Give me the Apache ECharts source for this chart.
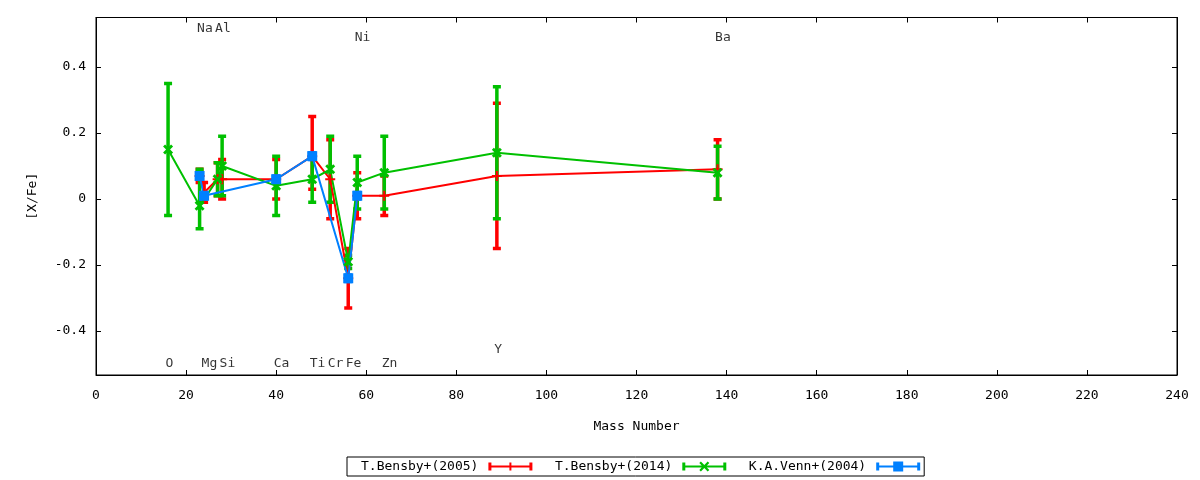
<!DOCTYPE html>
<html>
<head>
<meta charset="utf-8">
<script src="https://cdn.jsdelivr.net/npm/echarts@6/dist/echarts.min.js"></script>
<style>html,body{margin:0;padding:0;background:#fff}#c{width:1200px;height:480px}</style>
</head>
<body>
<div id="c"></div>
<script>
// ---- data ----
var redName = 'T.Bensby+(2005)';
var greenName = 'T.Bensby+(2014)';
var blueName = 'K.A.Venn+(2004)';

var redX    = [23,   24,    27,   28,   40,   48,   52,    56,    58,    64,    89,    138];
var redVal  = [0.07, 0.02,  0.06, 0.06, 0.06, 0.13, 0.06,  -0.24, 0.01,  0.01,  0.07,  0.09];
var redLow  = [0.05, -0.01, 0.01, 0.00, 0.00, 0.03, -0.06, -0.33, -0.06, -0.05, -0.15, 0.00];
var redHigh = [0.09, 0.05,  0.11, 0.12, 0.12, 0.25, 0.18,  -0.15, 0.08,  0.07,  0.29,  0.18];

var greenX    = [16,    23,    27,   28,   40,    48,    52,    56,    58,    64,    89,    138];
var greenVal  = [0.15,  -0.02, 0.06, 0.10, 0.04,  0.06,  0.09,  -0.19, 0.05,  0.08,  0.14,  0.08];
var greenLow  = [-0.05, -0.09, 0.01, 0.01, -0.05, -0.01, -0.01, -0.21, -0.03, -0.03, -0.06, 0.00];
var greenHigh = [0.35,  0.09,  0.11, 0.19, 0.13,  0.13,  0.19,  -0.17, 0.13,  0.19,  0.34,  0.16];

var blueX    = [23,   24,    40,   48,   56,    58];
var blueVal  = [0.07, 0.01,  0.06, 0.13, -0.24, 0.01];
var blueLow  = [0.06, 0.00,  0.05, 0.12, -0.25, 0.00];
var blueHigh = [0.08, 0.02,  0.07, 0.14, -0.23, 0.02];

var elemNames = ['Na', 'Al', 'Ni', 'Ba', 'Y',   'O',  'Mg', 'Si', 'Ca', 'Ti', 'Cr', 'Fe', 'Zn'];
var elemX     = [23,   27,   58,   138,  89,    16,   24,   28,   40,   48,   52,   56,   64];
var elemY     = [0.517, 0.517, 0.488, 0.488, -0.457, -0.498, -0.498, -0.498, -0.498, -0.498, -0.498, -0.498, -0.498];

var xTicks = [0, 20, 40, 60, 80, 100, 120, 140, 160, 180, 200, 220, 240];
var yTicks = [-0.4, -0.2, 0, 0.2, 0.4];

// ---- styling ----
var FONT = 'DejaVu Sans Mono';
var RED = '#ff0000', GREEN = '#00c000', BLUE = '#0080ff';

var plusPath = 'path://M4,0L6,0L6,4L10,4L10,6L6,6L6,10L4,10L4,6L0,6L0,4L4,4Z';
var xPath = 'path://M0,2L2,0L5,3L8,0L10,2L7,5L10,8L8,10L5,7L2,10L0,8L3,5Z';

function legendIcon(kind) {
  var base = 'M0,1L3,1L3,9L0,9Z M41,1L44,1L44,9L41,9Z M0,4L44,4L44,6L0,6Z ';
  if (kind === 'plus') return 'path://' + base + 'M21,1L23,1L23,9L21,9Z M17,4L27,4L27,6L17,6Z';
  if (kind === 'x') return 'path://' + base + 'M17,1.6L18.6,0L22,3.4L25.4,0L27,1.6L23.6,5L27,8.4L25.4,10L22,6.6L18.6,10L17,8.4L20.4,5Z';
  return 'path://' + base + 'M17,0L27,0L27,10L17,10Z';
}

function zip2(xs, ys) { return xs.map(function (x, i) { return [x, ys[i]]; }); }
function zip3(xs, lo, hi) { return xs.map(function (x, i) { return [x, lo[i], hi[i]]; }); }

function errRender(color) {
  return function (params, api) {
    var x = api.value(0), lo = api.value(1), hi = api.value(2);
    var a = api.coord([x, lo]), b = api.coord([x, hi]);
    var hw = 4;
    var st = { stroke: color, lineWidth: 3.5, fill: null };
    return {
      type: 'group',
      children: [
        { type: 'line', shape: { x1: a[0], y1: a[1], x2: b[0], y2: b[1] }, style: st },
        { type: 'line', shape: { x1: a[0] - hw, y1: a[1], x2: a[0] + hw, y2: a[1] }, style: st },
        { type: 'line', shape: { x1: b[0] - hw, y1: b[1], x2: b[0] + hw, y2: b[1] }, style: st }
      ]
    };
  };
}

function errSeries(id, color, data) {
  return {
    type: 'custom', name: id, renderItem: errRender(color),
    data: data, encode: { x: 0, y: [1, 2] }, silent: true, animation: false,
    xAxisIndex: 0, yAxisIndex: 0, clip: true
  };
}
function lineSeries(name, color, data, symbol, size) {
  return {
    type: 'line', name: name, data: data, symbol: symbol, symbolSize: size,
    showSymbol: true, showAllSymbol: true,
    itemStyle: { color: color, borderWidth: 0 },
    lineStyle: { color: color, width: 2 },
    animation: false, silent: true, xAxisIndex: 0, yAxisIndex: 0
  };
}

var chart = echarts.init(document.getElementById('c'), null, { renderer: 'canvas' });

var txt = { color: '#000', fontFamily: FONT, fontSize: 13 };
var axLine = { show: true, onZero: false, lineStyle: { color: '#000', width: 1 } };
var axTick = { show: true, inside: true, length: 5, lineStyle: { color: '#000' } };

var option = {
  backgroundColor: '#fff',
  animation: false,
  grid: { left: 96, right: 23, top: 17.5, bottom: 105, show: true, borderColor: '#000', borderWidth: 1, containLabel: false },
  legend: {
    left: 347, bottom: 4,
    orient: 'horizontal',
    align: 'right',
    itemWidth: 44, itemHeight: 10, itemGap: 22.5,
    borderColor: '#000', borderWidth: 1, borderRadius: 0,
    padding: [3, 4, 3, 14],
    textStyle: { color: '#000', fontFamily: FONT, fontSize: 13, padding: [0, 5, 0, 0] },
    selectedMode: false,
    data: [
      { name: redName, icon: legendIcon('plus') },
      { name: greenName, icon: legendIcon('x') },
      { name: blueName, icon: legendIcon('square') }
    ]
  },
  xAxis: [
    {
      type: 'value', position: 'bottom', min: xTicks[0], max: xTicks[xTicks.length - 1], interval: 20,
      axisLine: axLine,
      axisTick: axTick,
      axisLabel: { show: true, margin: 14, color: '#000', fontFamily: FONT, fontSize: 13 },
      splitLine: { show: false },
      name: 'Mass Number', nameLocation: 'middle', nameGap: 45,
      nameTextStyle: txt
    },
    {
      type: 'value', position: 'top', min: xTicks[0], max: xTicks[xTicks.length - 1], interval: 20,
      axisLine: axLine,
      axisTick: axTick,
      axisLabel: { show: false }, splitLine: { show: false }
    }
  ],
  yAxis: [
    {
      type: 'value', position: 'left', min: -0.533, max: 0.55,
      axisLine: axLine,
      axisTick: { show: true, inside: true, length: 5, lineStyle: { color: '#000' }, customValues: yTicks },
      axisLabel: { show: true, margin: 10, color: '#000', fontFamily: FONT, fontSize: 13, customValues: yTicks },
      splitLine: { show: false },
      name: '[X/Fe]', nameLocation: 'middle', nameGap: 57, nameRotate: 90,
      nameTextStyle: txt
    },
    {
      type: 'value', position: 'right', min: -0.533, max: 0.55,
      axisLine: axLine,
      axisTick: { show: true, inside: true, length: 5, lineStyle: { color: '#000' }, customValues: yTicks },
      axisLabel: { show: false }, splitLine: { show: false }
    }
  ],
  series: [
    {
      type: 'scatter', name: 'elements', silent: true, animation: false,
      xAxisIndex: 0, yAxisIndex: 0,
      symbol: 'circle', symbolSize: 1,
      itemStyle: { color: 'rgba(0,0,0,0)' },
      data: elemNames.map(function (n, i) { return { name: n, value: [elemX[i], elemY[i]] }; }),
      label: {
        show: true, position: 'right', distance: 0, offset: [-3, 0],
        formatter: function (p) { return p.name; },
        color: '#000', fontFamily: FONT, fontSize: 13
      }
    },
    errSeries('redErr', RED, zip3(redX, redLow, redHigh)),
    lineSeries(redName, RED, zip2(redX, redVal), plusPath, 10),
    errSeries('greenErr', GREEN, zip3(greenX, greenLow, greenHigh)),
    lineSeries(greenName, GREEN, zip2(greenX, greenVal), xPath, 10),
    errSeries('blueErr', BLUE, zip3(blueX, blueLow, blueHigh)),
    lineSeries(blueName, BLUE, zip2(blueX, blueVal), 'rect', 10)
  ]
};
chart.setOption(option);
</script>
</body>
</html>
